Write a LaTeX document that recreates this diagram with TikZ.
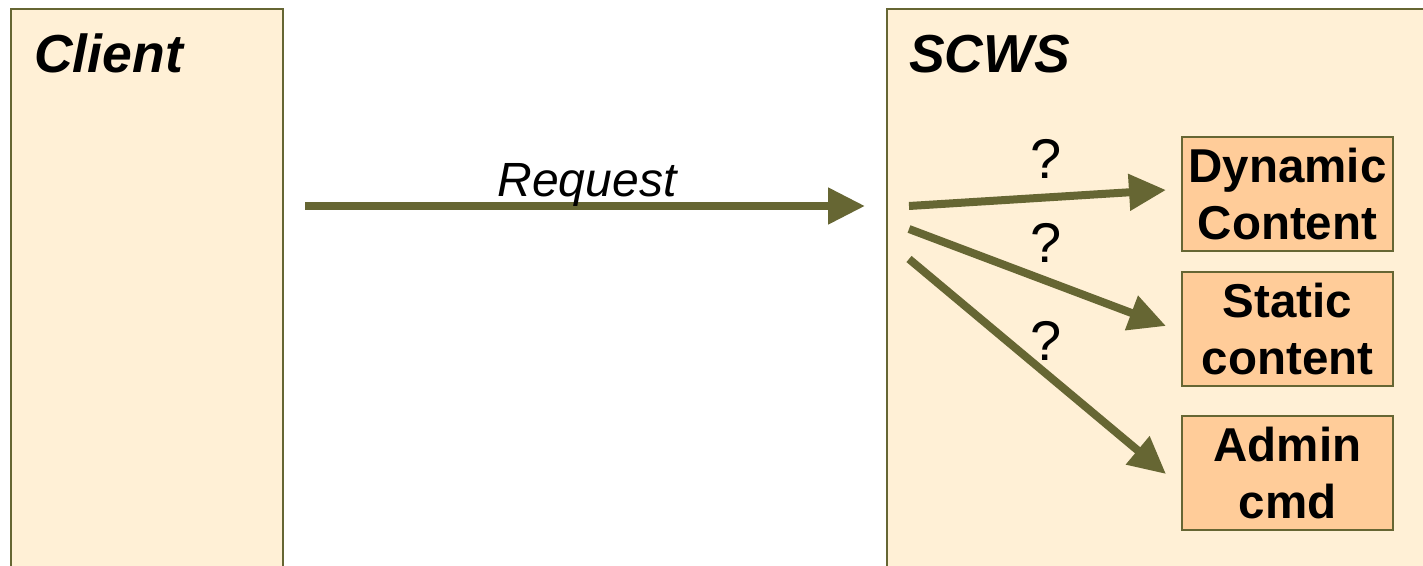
\documentclass[tikz,border=0pt]{standalone}
\usepackage{fontspec}
\setmainfont{Liberation Sans}
\usetikzlibrary{arrows.meta,calc}

\definecolor{olive}{RGB}{102,102,51}
\definecolor{cream}{RGB}{255,240,214}
\definecolor{peach}{RGB}{255,204,153}

\tikzset{
  panel/.style={draw=olive, line width=2pt, fill=cream, anchor=north west, inner sep=0pt},
  target/.style={draw=olive, line width=2pt, fill=peach, minimum width=211pt, minimum height=114pt,
                 inner sep=0pt, align=center, font=\fontsize{47.5}{57}\selectfont\bfseries},
  title/.style={anchor=base west, inner sep=0pt, font=\fontsize{53.5}{60}\selectfont\bfseries\itshape},
  flow/.style={draw=olive, line width=8pt, -{Triangle[length=37pt, width=35pt]}},
  query/.style={anchor=base, inner sep=0pt, font=\fontsize{56}{60}\selectfont}
}

\begin{document}
\begin{tikzpicture}[x=1pt, y=-1pt]
  \useasboundingbox (0,0) rectangle (1423,565);
  \begin{scope}
    \clip (0,0) rectangle (1423,565);

    % the two parties
    \node[panel, minimum width=272pt, minimum height=620pt] (client) at (10,8) {};
    \node[panel, minimum width=560pt, minimum height=620pt] (scws) at (886,8) {};
    \node[title] (clientlabel) at (34,72) {Client};
    \node[title] (scwslabel) at (909,72) {SCWS};

    % request from the client
    \coordinate (reqstart) at (305,206);
    \coordinate (reqend) at (865,206);
    \draw[flow] (reqstart) -- (reqend);
    \node[anchor=base, inner sep=0pt, font=\fontsize{48}{52}\selectfont\itshape] (reqlabel) at (587,196) {Request};

    % possible handlers inside the server
    \node[target] (dyn) at (1287.5,194) {Dynamic\\Content};
    \node[target] (stat) at (1287.5,329) {Static\\content};
    \node[target] (adm) at (1287.5,473) {Admin\\cmd};

    \coordinate (d1) at (909,206);
    \coordinate (d2) at (909,229);
    \coordinate (d3) at (909,259);
    \draw[flow] (d1) -- ($(dyn.west)+(-15,-4)$);
    \draw[flow] (d2) -- ($(stat.west)+(-15,-3)$);
    \draw[flow] (d3) -- ($(adm.west)+(-15,1)$);

    \node[query] (q1) at (1046,178) {?};
    \node[query] (q2) at (1046,262) {?};
    \node[query] (q3) at (1046,360) {?};
  \end{scope}
\end{tikzpicture}
\end{document}
